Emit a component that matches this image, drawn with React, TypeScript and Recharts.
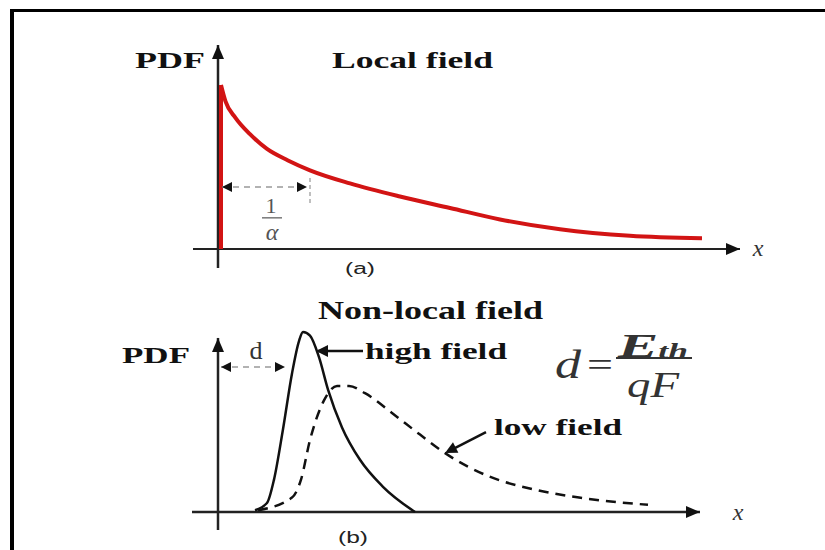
import { LineChart, Line, XAxis, YAxis, ReferenceLine, ReferenceDot } from "recharts";

// panel (a) - local field, decaying PDF
const localX = [0.06, 0.15, 0.35, 0.64, 0.98, 1.4, 1.84, 2.64, 3.64, 4.64, 5.64, 6.84, 8.24, 9.68];
const localPdf = [1.0, 0.9, 0.8, 0.7, 0.61, 0.54, 0.48, 0.4, 0.32, 0.25, 0.18, 0.12, 0.08, 0.065];

// panel (b) - non-local field
const highX = [0.74, 0.98, 1.12, 1.3, 1.48, 1.62, 1.7, 1.84, 2.02, 2.2, 2.48, 2.84, 3.3, 3.94];
const highPdf = [0.01, 0.05, 0.18, 0.46, 0.77, 0.95, 1.0, 0.98, 0.86, 0.68, 0.47, 0.29, 0.14, 0.0];
const lowX = [0.8, 1.48, 1.66, 1.84, 2.12, 2.38, 2.62, 2.94, 3.48, 4.04, 4.58, 5.4, 6.32, 7.22, 8.6];
const lowPdf = [0.01, 0.08, 0.18, 0.4, 0.62, 0.7, 0.7, 0.66, 0.55, 0.43, 0.32, 0.2, 0.125, 0.08, 0.04];

const localData = localX.map((x, i) => ({ x, y: localPdf[i] }));
const localEdge = [{ x: 0.06, y: 0 }, { x: 0.06, y: 1.0 }];
const highData = highX.map((x, i) => ({ x, y: highPdf[i] }));
const lowData = lowX.map((x, i) => ({ x, y: lowPdf[i] }));

const SERIF = "'Liberation Serif', 'Times New Roman', serif";
const SANS = "'Liberation Sans', Arial, sans-serif";

// arrow head with its tip on the point, angle in degrees (0 = right, 90 = up)
const head = (angle: number, len = 14, half = 6, color = "#111") => (p: any) => {
  const a = (angle * Math.PI) / 180;
  const ux = Math.cos(a);
  const uy = -Math.sin(a);
  const bx = p.cx - ux * len;
  const by = p.cy - uy * len;
  const pts = [
    [p.cx, p.cy],
    [bx - uy * half, by + ux * half],
    [bx + uy * half, by - ux * half],
  ]
    .map((q) => q.join(","))
    .join(" ");
  return <polygon points={pts} fill={color} />;
};

interface TxtOpts {
  size?: number;
  bold?: boolean;
  italic?: boolean;
  anchor?: "start" | "middle" | "end";
  len?: number;
  color?: string;
  family?: string;
}

const txt = (s: string, o: TxtOpts = {}) => (p: any) => (
  <text
    x={p.cx}
    y={p.cy}
    style={{
      fontFamily: o.family ?? SERIF,
      fontSize: o.size ?? 24,
      fontWeight: o.bold ? "bold" : "normal",
      fontStyle: o.italic ? "italic" : "normal",
    }}
    fill={o.color ?? "#111"}
    textAnchor={o.anchor ?? "start"}
    dominantBaseline="central"
    textLength={o.len}
    lengthAdjust={o.len ? "spacingAndGlyphs" : undefined}
  >
    {s}
  </text>
);

const eth = (p: any) => (
  <text
    x={p.cx}
    y={p.cy}
    style={{ fontFamily: SERIF, fontStyle: "italic", fontWeight: "bold" }}
    fill="#333"
    textAnchor="middle"
    dominantBaseline="central"
    textLength={70}
    lengthAdjust="spacingAndGlyphs"
  >
    <tspan fontSize={34}>E</tspan>
    <tspan fontSize={20} dy={6}>th</tspan>
  </text>
);

const dot = (x: number, y: number, shape: any, key: string) => (
  <ReferenceDot key={key} x={x} y={y} r={0} ifOverflow="visible" shape={shape} />
);

const App = () => {
  return (
    <div style={{ position: "absolute", left: 0, top: 0, width: 825, height: 550, background: "#fff" }}>
      <div
        style={{
          position: "absolute",
          left: 10,
          top: 9,
          width: 830,
          height: 560,
          borderTop: "3px solid #000",
          borderLeft: "4px solid #000",
        }}
      />

      <div style={{ position: "absolute", left: 0, top: 0 }}>
        <LineChart width={825} height={280} margin={{ top: 45, right: 85, bottom: 12, left: 193 }}>
          <XAxis type="number" dataKey="x" domain={[-0.5, 10.44]} allowDataOverflow hide />
          <YAxis type="number" dataKey="y" domain={[-0.116, 1.244]} allowDataOverflow hide />

          <ReferenceLine y={0} stroke="#222" strokeWidth={2} />
          <ReferenceLine x={0} stroke="#222" strokeWidth={2.5} />
          {dot(10.44, 0, head(0), "ax")}
          {dot(0, 1.244, head(90), "ay")}

          <Line data={localEdge} dataKey="y" type="linear" stroke="#d21414" strokeWidth={4} dot={false} isAnimationActive={false} />
          <Line data={localData} dataKey="y" type="monotone" stroke="#d21414" strokeWidth={4} dot={false} isAnimationActive={false} />

          <ReferenceLine segment={[{ x: 0.08, y: 0.378 }, { x: 1.78, y: 0.378 }]} stroke="#999" strokeWidth={1.5} strokeDasharray="6 5" ifOverflow="visible" />
          <ReferenceLine segment={[{ x: 1.84, y: 0.28 }, { x: 1.84, y: 0.44 }]} stroke="#aaa" strokeWidth={1.5} strokeDasharray="4 3" ifOverflow="visible" />
          {dot(0.08, 0.378, head(180, 10, 5), "h1")}
          {dot(1.78, 0.378, head(0, 10, 5), "h2")}
          <ReferenceLine segment={[{ x: 0.88, y: 0.19 }, { x: 1.28, y: 0.19 }]} stroke="#777" strokeWidth={1.5} ifOverflow="visible" />

          {dot(-0.26, 1.152, txt("PDF", { bold: true, anchor: "end", len: 70 }), "t1")}
          {dot(2.28, 1.152, txt("Local field", { bold: true, len: 161 }), "t2")}
          {dot(1.06, 0.268, txt("1", { size: 22, anchor: "middle", color: "#555" }), "t3")}
          {dot(1.08, 0.104, txt("α", { size: 24, italic: true, anchor: "middle", color: "#555" }), "t4")}
          {dot(2.84, -0.116, txt("(a)", { size: 16, anchor: "middle", family: SANS, len: 30, color: "#222" }), "t5")}
          {dot(10.8, 0.006, txt("x", { size: 24, italic: true, anchor: "middle", color: "#333" }), "t6")}
        </LineChart>
      </div>

      <div style={{ position: "absolute", left: 0, top: 280 }}>
        <LineChart width={825} height={270} margin={{ top: 45, right: 125, bottom: 20, left: 192 }}>
          <XAxis type="number" dataKey="x" domain={[-0.52, 9.64]} allowDataOverflow hide />
          <YAxis type="number" dataKey="y" domain={[-0.1, 1.039]} allowDataOverflow hide />

          <ReferenceLine y={0} stroke="#222" strokeWidth={2.5} />
          <ReferenceLine segment={[{ x: 0, y: -0.1 }, { x: 0, y: 0.967 }]} stroke="#222" strokeWidth={2.5} ifOverflow="visible" />
          {dot(9.64, 0, head(0), "bx")}
          {dot(0, 0.967, head(90), "by")}

          <Line data={highData} dataKey="y" type="monotone" stroke="#111" strokeWidth={2.5} dot={false} isAnimationActive={false} />
          <Line data={lowData} dataKey="y" type="monotone" stroke="#111" strokeWidth={2.5} strokeDasharray="10 7" dot={false} isAnimationActive={false} />

          <ReferenceLine segment={[{ x: 0.06, y: 0.806 }, { x: 1.34, y: 0.806 }]} stroke="#999" strokeWidth={1.5} strokeDasharray="6 5" ifOverflow="visible" />
          {dot(0.06, 0.806, head(180, 10, 5), "d1")}
          {dot(1.34, 0.806, head(0, 10, 5), "d2")}

          <ReferenceLine segment={[{ x: 2.0, y: 0.894 }, { x: 2.9, y: 0.894 }]} stroke="#111" strokeWidth={2.5} ifOverflow="visible" />
          {dot(1.96, 0.894, head(180, 12, 6), "hf")}
          <ReferenceLine segment={[{ x: 5.36, y: 0.444 }, { x: 4.6, y: 0.336 }]} stroke="#111" strokeWidth={2.5} ifOverflow="visible" />
          {dot(4.54, 0.328, head(207, 12, 6), "lf")}

          {dot(2.0, 1.122, txt("Non-local field", { bold: true, size: 26, len: 225 }), "s1")}
          {dot(-0.56, 0.872, txt("PDF", { bold: true, anchor: "end", len: 68 }), "s2")}
          {dot(0.76, 0.9, txt("d", { size: 26, anchor: "middle", color: "#333" }), "s3")}
          {dot(2.94, 0.894, txt("high field", { bold: true, len: 142 }), "s4")}
          {dot(5.52, 0.472, txt("low field", { bold: true, len: 128 }), "s5")}
          {dot(2.7, -0.139, txt("(b)", { size: 16, anchor: "middle", family: SANS, len: 30, color: "#222" }), "s6")}
          {dot(10.4, 0, txt("x", { size: 24, italic: true, anchor: "middle", color: "#333" }), "s7")}

          {dot(7.0, 0.817, txt("d", { size: 40, italic: true, anchor: "middle", color: "#333", len: 26 }), "e1")}
          {dot(7.64, 0.82, txt("=", { size: 34, anchor: "middle", color: "#333", len: 26 }), "e2")}
          {dot(8.7, 0.93, eth, "e3")}
          <ReferenceLine segment={[{ x: 7.96, y: 0.856 }, { x: 9.48, y: 0.856 }]} stroke="#333" strokeWidth={2} ifOverflow="visible" />
          {dot(8.7, 0.706, txt("qF", { size: 36, italic: true, anchor: "middle", color: "#333", len: 52 }), "e4")}
        </LineChart>
      </div>
    </div>
  );
};

export default App;
